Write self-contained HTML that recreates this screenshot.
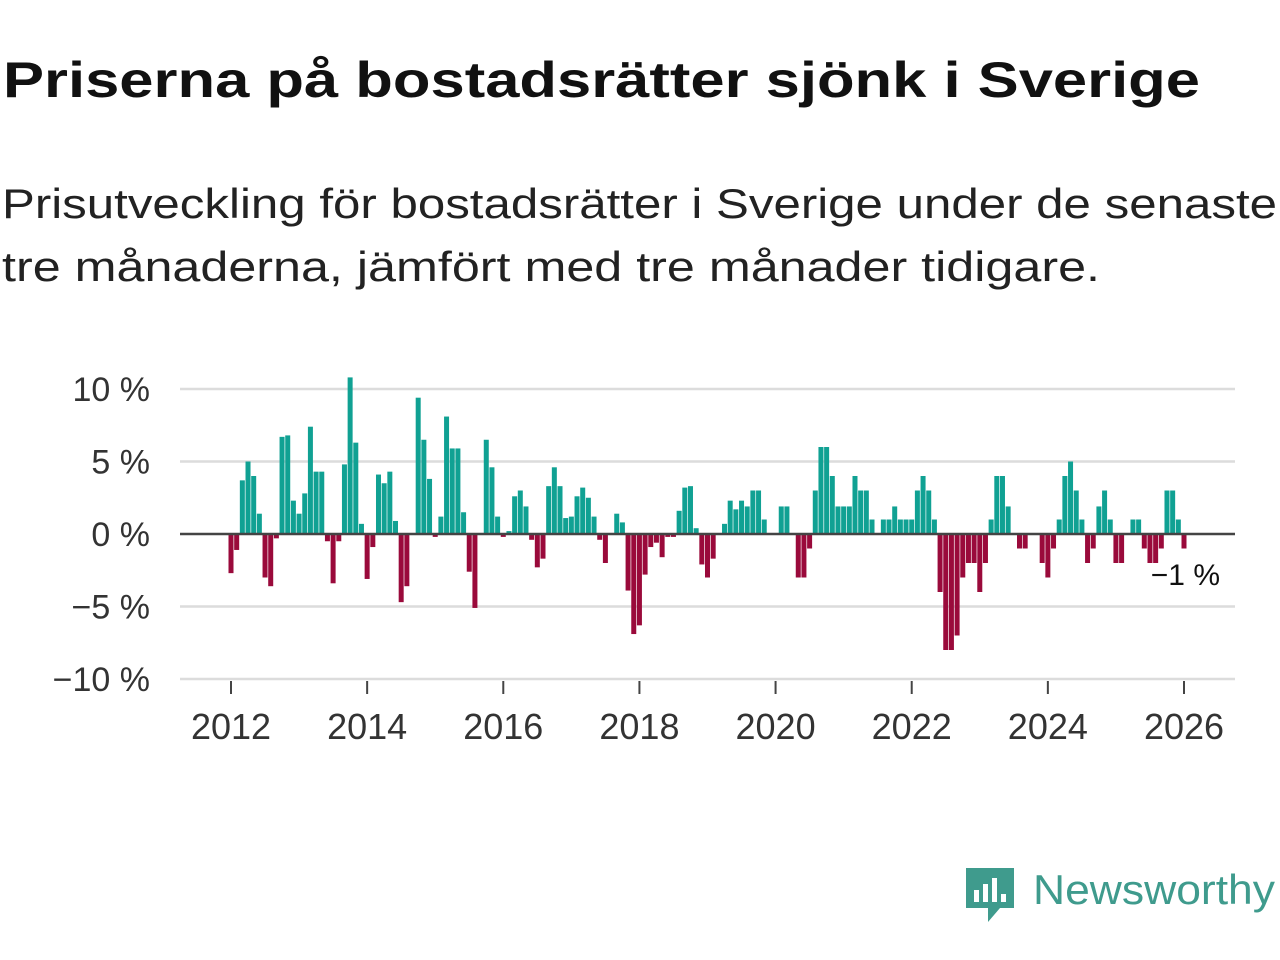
<!DOCTYPE html>
<html><head><meta charset="utf-8"><style>
html,body{margin:0;padding:0;background:#fff;}
svg{display:block;font-family:"Liberation Sans","DejaVu Sans",sans-serif;}
</style></head><body>
<svg id="chart" width="1280" height="960" viewBox="0 0 1280 960">
<text x="3" y="97" font-size="50" font-weight="bold" fill="#111" textLength="1197" lengthAdjust="spacingAndGlyphs">Priserna på bostadsrätter sjönk i Sverige</text>
<text x="2" y="218" font-size="42" fill="#222" textLength="1275" lengthAdjust="spacingAndGlyphs">Prisutveckling för bostadsrätter i Sverige under de senaste</text>
<text x="2" y="281" font-size="42" fill="#222" textLength="1098" lengthAdjust="spacingAndGlyphs">tre månaderna, jämfört med tre månader tidigare.</text>
<g id="grid"></g>
<g id="bars"></g>
<g id="axes"></g>
<text x="1220" y="585" font-size="30" fill="#111" text-anchor="end">−1 %</text>
<g>
<path d="M966 868 h48 v40 h-14 l-12 14 v-14 h-22 z" fill="#3f9b8d"/>
<rect x="974" y="890" width="5" height="12" fill="#fff"/><rect x="983" y="884" width="5" height="18" fill="#fff"/><rect x="992" y="878" width="5" height="24" fill="#fff"/><rect x="1001" y="894" width="5" height="8" fill="#fff"/>
<text x="1033" y="904" font-size="42" fill="#3f9b8d" textLength="242" lengthAdjust="spacingAndGlyphs">Newsworthy</text>
</g>
</svg>
<script>
const startYear = 2012;
const values = [-2.7,-1.1,3.7,5.0,4.0,1.4,-3.0,-3.6,-0.3,6.7,6.8,2.3,
1.4,2.8,7.4,4.3,4.3,-0.5,-3.4,-0.5,4.8,10.8,6.3,0.7,
-3.1,-0.9,4.1,3.5,4.3,0.9,-4.7,-3.6,0,9.4,6.5,3.8,
-0.2,1.2,8.1,5.9,5.9,1.5,-2.6,-5.1,0,6.5,4.6,1.2,
-0.2,0.2,2.6,3.0,1.9,-0.4,-2.3,-1.7,3.3,4.6,3.3,1.1,
1.2,2.6,3.2,2.5,1.2,-0.4,-2.0,0,1.4,0.8,-3.9,-6.9,
-6.3,-2.8,-0.9,-0.6,-1.6,-0.2,-0.2,1.6,3.2,3.3,0.4,-2.1,
-3.0,-1.7,0,0.7,2.3,1.7,2.3,1.9,3.0,3.0,1.0,0,
0,1.9,1.9,0,-3.0,-3.0,-1.0,3.0,6.0,6.0,4.0,1.9,
1.9,1.9,4.0,3.0,3.0,1.0,0,1.0,1.0,1.9,1.0,1.0,
1.0,3.0,4.0,3.0,1.0,-4.0,-8.0,-8.0,-7.0,-3.0,-2.0,-2.0,
-4.0,-2.0,1.0,4.0,4.0,1.9,0,-1.0,-1.0,0,0,-2.0,
-3.0,-1.0,1.0,4.0,5.0,3.0,1.0,-2.0,-1.0,1.9,3.0,1.0,
-2.0,-2.0,0,1.0,1.0,-1.0,-2.0,-2.0,-1.0,3.0,3.0,1.0,
-1.0];
const yTicks = [10,5,0,-5,-10];
const yTickLabels = ["10 %","5 %","0 %","−5 %","−10 %"];
const xTickYears = [2012,2014,2016,2018,2020,2022,2024,2026];

const NS="http://www.w3.org/2000/svg";
const X0=231, PX_PER_MONTH=(1184-231)/168, Y0=534, PX_PER_PCT=14.5;
const xs = m => X0 + m*PX_PER_MONTH;
const ys = v => Y0 - v*PX_PER_PCT;
function mk(tag, attrs, parent){const e=document.createElementNS(NS,tag);for(const k in attrs)e.setAttribute(k,attrs[k]);parent.appendChild(e);return e;}
const grid=document.getElementById('grid'), bars=document.getElementById('bars'), axes=document.getElementById('axes');
yTicks.forEach((t,i)=>{
  if(t!==0){const l=mk('line',{x1:180,x2:1235,y1:ys(t),y2:ys(t),stroke:'#dcdcdc','stroke-width':2.5},grid);
  
  }
  const tx=mk('text',{x:150,y:ys(t)+12,'font-size':34,fill:'#333','text-anchor':'end'},axes);
  tx.textContent=yTickLabels[i];
  
  
});
values.forEach((v,i)=>{
  if(v===0)return;
  const y=Math.min(ys(v),Y0), h=Math.abs(ys(v)-Y0);
  const r=mk('rect',{x:xs(i)-2.5,y:y,width:5,height:h,fill:v>0?'#10a193':'#9a0a3b'},bars);
  
  
});
const zl=mk('line',{x1:180,x2:1235,y1:Y0,y2:Y0,stroke:'#444','stroke-width':2.5},axes);


xTickYears.forEach(yr=>{
  const x=xs((yr-startYear)*12);
  const t=mk('line',{x1:x,x2:x,y1:681,y2:694,stroke:'#444','stroke-width':2},axes);
  
  
  const tx=mk('text',{x:x,y:739,'font-size':36,fill:'#333','text-anchor':'middle'},axes);
  tx.textContent=yr;
  
  
});
</script>
</body></html>
